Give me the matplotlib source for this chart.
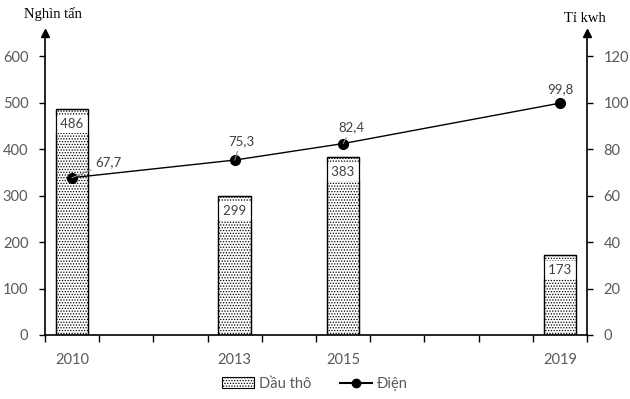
import matplotlib as mpl

mpl.use("Agg")
import matplotlib.pyplot as plt
from matplotlib.patches import Patch
from matplotlib.lines import Line2D

years = [2010, 2013, 2015, 2019]
crude_oil = [486, 299, 383, 173]  # nghìn tấn
electricity = [67.7, 75.3, 82.4, 99.8]  # tỉ kwh
elec_labels = ["67,7", "75,3", "82,4", "99,8"]

tick_color = "#595959"
plt.rcParams["font.family"] = ["Lato", "DejaVu Sans"]
plt.rcParams["hatch.linewidth"] = 0.6

fig = plt.figure(figsize=(6.3, 3.99), dpi=100)
ax = fig.add_axes([45 / 630, 64 / 399, 542 / 630, 302 / 399])
ax2 = ax.twinx()

# bars: hatched fill, then white label boxes, then outline on top
ax.bar(years, crude_oil, width=0.6, facecolor="white", edgecolor="black",
       linewidth=0.9, hatch="......", zorder=2)
for x, v in zip(years, crude_oil):
    # padded with spaces so the white box spans the bar width
    ax.annotate(f"   {v}   ", (x, v), xytext=(0, -11), textcoords="offset points",
                ha="center", va="center", fontsize=9.5, color="#404040",
                bbox=dict(boxstyle="square,pad=0.22", fc="white", ec="none"), zorder=3)
ax.bar(years, crude_oil, width=0.6, fill=False, edgecolor="black", linewidth=0.9, zorder=4)

# line
ax2.plot(years, electricity, color="black", linewidth=1.0, marker="o",
         markersize=7, zorder=4)
offsets = [(26, 11), (4.5, 13.5), (6, 11.5), (0, 10)]
for x, v, lab, off in zip(years, electricity, elec_labels, offsets):
    leader = off[0] != 0
    ax2.annotate(lab, (x, v), xytext=off, textcoords="offset points",
                 ha="center", va="center", fontsize=9.5, color="#404040", zorder=5,
                 arrowprops=dict(arrowstyle="-", color="#8c8c8c", lw=0.8,
                                 shrinkA=1, shrinkB=0) if leader else None)

ax.set_xlim(2009.5, 2019.5)
ax.set_ylim(0, 650)
ax2.set_ylim(0, 130)
ax.set_yticks(range(0, 700, 100))
ax2.set_yticks(range(0, 140, 20))

ax.set_xticks(years)
ax.set_xticks([2009.5 + i for i in range(11)], minor=True)
ax.tick_params(axis="x", which="major", length=0, pad=13, labelsize=10.5, labelcolor=tick_color)
ax.tick_params(axis="x", which="minor", length=5, width=1, direction="out")
ax.tick_params(axis="y", length=4, width=1, pad=8, labelsize=10.5, labelcolor=tick_color)
ax2.tick_params(axis="y", length=4, width=1, pad=8, labelsize=10.5, labelcolor=tick_color)

for a in (ax, ax2):
    a.spines["top"].set_visible(False)
    for s in a.spines.values():
        s.set_linewidth(1.2)
ax.spines["right"].set_visible(False)
ax2.spines["left"].set_visible(False)
ax2.spines["bottom"].set_visible(False)

# arrow heads on the vertical axes
ax.plot([0], [1], marker="^", color="black", markersize=6, transform=ax.transAxes, clip_on=False)
ax.plot([1], [1], marker="^", color="black", markersize=6, transform=ax.transAxes, clip_on=False)

fig.text(53 / 630, 1 - 14 / 399, "Nghìn tấn", family="Liberation Serif", fontsize=10.5,
         ha="center", va="center")
fig.text(585 / 630, 1 - 18 / 399, "Tỉ kwh", family="Liberation Serif", fontsize=10.5,
         ha="center", va="center")

handles = [
    Patch(facecolor="white", edgecolor="black", hatch="......", linewidth=0.8, label="Dầu thô"),
    Line2D([], [], color="black", marker="o", markersize=6, linewidth=1.5, label="Điện"),
]
fig.legend(handles=handles, loc="lower center", bbox_to_anchor=(0.5, -0.012), ncol=2,
           frameon=False, fontsize=10.5, handlelength=2.2, handleheight=0.7,
           columnspacing=2.0, handletextpad=0.3, labelcolor=tick_color)

fig.savefig("out.png", dpi=100)
